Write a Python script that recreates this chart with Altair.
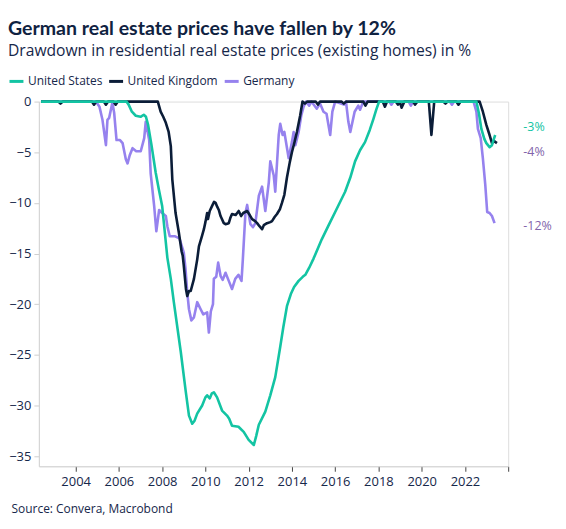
import altair as alt
import pandas as pd

# ---------------- data ----------------
us_year = [2002.4, 2006.35, 2006.45, 2006.6, 2006.78, 2007.0, 2007.15, 2007.25, 2007.35, 2007.5,
           2007.7, 2007.85, 2008.0, 2008.24, 2008.4, 2008.54, 2008.86, 2009.09, 2009.24, 2009.39,
           2009.5, 2009.62, 2009.85, 2010.0, 2010.08, 2010.2, 2010.3, 2010.39, 2010.54, 2010.77,
           2011.0, 2011.1, 2011.23, 2011.53, 2011.77, 2012.0, 2012.24, 2012.35, 2012.47, 2012.77,
           2013.0, 2013.23, 2013.46, 2013.6, 2013.77, 2013.95, 2014.1, 2014.31, 2014.5, 2014.62,
           2014.8, 2015.0, 2015.38, 2015.7, 2016.0, 2016.46, 2016.7, 2016.92, 2017.15, 2017.38,
           2017.6, 2017.77, 2017.9, 2018.03, 2022.53, 2022.65, 2022.76, 2022.9, 2022.99, 2023.14,
           2023.25, 2023.32, 2023.4]
us_val = [0, 0, -0.3, -1.0, -1.4, -1.5, -1.3, -1.5, -2.3, -4.2,
          -7.0, -8.7, -10.3, -15.4, -17.5, -19.8, -24.7, -28.6, -31.0, -31.8,
          -31.5, -30.8, -30.0, -29.2, -29.0, -29.3, -28.8, -28.7, -29.2, -30.5,
          -31.0, -31.3, -32.0, -32.1, -32.6, -33.4, -33.9, -33.0, -31.9, -30.6,
          -29.0, -27.2, -24.2, -22.3, -20.2, -19.0, -18.3, -17.7, -17.3, -17.1,
          -16.4, -15.5, -13.6, -12.2, -10.9, -8.9, -7.5, -5.9, -4.8, -4.0,
          -2.8, -1.7, -0.8, 0, 0, -1.2, -2.7, -3.7, -4.1, -4.5,
          -4.3, -3.8, -3.3]

uk_year = [2002.4, 2003.2, 2003.3, 2003.4, 2004.75, 2004.85, 2004.95, 2005.3, 2005.4, 2005.5,
           2005.75, 2005.85, 2005.95, 2007.8, 2007.93, 2008.05, 2008.17, 2008.3, 2008.4, 2008.47,
           2008.62, 2008.77, 2008.9, 2008.95, 2009.0, 2009.1, 2009.16, 2009.24, 2009.32, 2009.47,
           2009.62, 2009.7, 2009.85, 2009.93, 2010.0, 2010.08, 2010.12, 2010.2, 2010.31, 2010.4,
           2010.47, 2010.55, 2010.62, 2010.7, 2010.85, 2010.93, 2011.08, 2011.15, 2011.23, 2011.4,
           2011.54, 2011.65, 2011.75, 2011.93, 2012.05, 2012.16, 2012.3, 2012.39, 2012.5, 2012.62,
           2012.7, 2012.85, 2013.0, 2013.08, 2013.2, 2013.31, 2013.45, 2013.54, 2013.65, 2013.77,
           2013.9, 2014.0, 2014.12, 2014.23, 2014.38, 2014.49, 2014.6, 2014.7, 2015.1, 2015.2,
           2015.3, 2016.3, 2016.4, 2016.5, 2017.3, 2017.4, 2017.5, 2018.2, 2018.3, 2018.4,
           2018.8, 2018.9, 2019.0, 2019.07, 2019.2, 2019.6, 2019.69, 2019.8, 2020.33, 2020.45,
           2020.58, 2021.0, 2021.1, 2021.2, 2021.6, 2021.7, 2021.8, 2022.68, 2022.83, 2022.99,
           2023.14, 2023.25, 2023.35, 2023.48]
uk_val = [0, 0, -0.2, 0, 0, -0.3, 0, 0, -0.3, 0,
          0, -0.3, 0, 0, -1.0, -1.5, -2.1, -3.0, -4.4, -7.7,
          -11.0, -12.9, -14.8, -15.2, -16.2, -18.5, -19.2, -18.7, -18.7, -17.5,
          -15.6, -14.3, -13.2, -12.6, -11.9, -11.0, -11.6, -10.8, -10.3, -9.9,
          -10.0, -10.4, -10.7, -11.3, -12.0, -12.1, -12.0, -11.5, -11.1, -11.2,
          -10.8, -11.3, -11.0, -10.8, -11.2, -11.6, -11.8, -12.0, -12.3, -12.6,
          -12.2, -12.0, -11.9, -11.8, -11.4, -11.1, -10.6, -10.0, -9.2, -7.5,
          -6.0, -5.0, -4.0, -3.0, -1.4, 0, -0.2, 0, 0, -0.3,
          0, 0, -0.2, 0, 0, -0.4, 0, 0, -0.5, 0,
          0, -0.3, -0.1, -0.6, 0, 0, -0.3, 0, 0, -3.3,
          0, 0, -0.2, 0, 0, -0.3, 0, 0, -1.0, -2.3,
          -3.3, -4.1, -3.9, -4.1]

de_year = [2002.4, 2004.9, 2005.0, 2005.1, 2005.24, 2005.4, 2005.47, 2005.55, 2005.7, 2005.78,
           2005.89, 2006.05, 2006.17, 2006.32, 2006.4, 2006.5, 2006.63, 2006.8, 2007.01, 2007.17,
           2007.24, 2007.4, 2007.47, 2007.63, 2007.73, 2007.86, 2008.0, 2008.17, 2008.24, 2008.35,
           2008.6, 2008.8, 2009.0, 2009.08, 2009.16, 2009.24, 2009.35, 2009.47, 2009.62, 2009.78,
           2009.9, 2010.08, 2010.16, 2010.25, 2010.35, 2010.39, 2010.5, 2010.59, 2010.7, 2010.8,
           2010.93, 2011.08, 2011.23, 2011.38, 2011.53, 2011.67, 2011.73, 2011.85, 2011.93, 2012.08,
           2012.2, 2012.31, 2012.47, 2012.62, 2012.77, 2012.93, 2013.0, 2013.16, 2013.23, 2013.39,
           2013.46, 2013.57, 2013.65, 2013.85, 2014.0, 2014.08, 2014.16, 2014.31, 2014.43, 2014.54,
           2014.65, 2014.8, 2014.9, 2015.15, 2015.3, 2015.46, 2015.6, 2015.77, 2015.87, 2016.0,
           2016.4, 2016.5, 2016.61, 2016.7, 2016.9, 2017.07, 2017.15, 2017.3, 2018.5, 2018.6,
           2018.7, 2019.4, 2019.5, 2019.6, 2021.3, 2021.4, 2021.5, 2022.4, 2022.53, 2022.6,
           2022.73, 2022.83, 2022.94, 2023.03, 2023.14, 2023.25, 2023.37]
de_val = [0, 0, -0.2, -0.5, -1.8, -4.3, -1.8, -1.6, -0.1, -1.1,
          -3.8, -3.8, -4.1, -5.7, -6.1, -5.3, -4.6, -4.9, -4.9, -3.6,
          -2.0, -3.8, -7.1, -10.3, -12.8, -10.7, -11.0, -11.3, -12.3, -13.3,
          -13.3, -13.5, -14.9, -16.5, -18.8, -20.5, -21.6, -21.3, -19.8, -20.5,
          -21.0, -20.8, -22.8, -20.7, -20.0, -17.5, -17.3, -15.9, -17.2, -17.6,
          -16.9, -17.7, -18.5, -17.5, -17.1, -17.7, -15.6, -11.0, -10.2, -12.1,
          -12.4, -12.0, -9.3, -8.4, -10.8, -8.0, -5.9, -7.3, -8.9, -3.3,
          -2.2, -3.3, -3.0, -5.6, -4.0, -3.0, -4.3, -3.0, -1.4, -0.5,
          0, -0.4, 0, -0.7, -0.2, -1.0, -1.2, -3.3, -1.0, 0,
          -0.3, 0, -2.0, -3.0, -1.0, -0.4, -0.8, 0, 0, -0.3,
          0, 0, -0.4, 0, 0, -0.3, 0, 0, -1.0, -2.7,
          -3.6, -5.6, -8.2, -10.9, -11.0, -11.3, -12.0]

series_names = ["United States", "United Kingdom", "Germany"]
series_colors = ["#13c4a3", "#0b1d38", "#9682ee"]

end_labels = ["-3%", "-4%", "-12%"]
end_label_y = [-2.5, -5.0, -12.3]
end_label_colors = ["#13c4a3", "#8264ab", "#8264ab"]
end_label_x = 2024.7

x_ticks = [2004, 2006, 2008, 2010, 2012, 2014, 2016, 2018, 2020, 2022, 2024]
y_ticks = [0, -5, -10, -15, -20, -25, -30, -35]

FONT = "Open Sans"
TXT = "#16274a"

def frame(years, vals, name):
    return pd.DataFrame({"year": years, "value": vals, "series": name})

df_us = frame(us_year, us_val, series_names[0])
df_uk = frame(uk_year, uk_val, series_names[1])
df_de = frame(de_year, de_val, series_names[2])
df_lab = pd.DataFrame({"year": [end_label_x] * 3, "value": end_label_y,
                       "label": end_labels, "col": end_label_colors})

xscale = alt.Scale(domain=[2002.3, 2024.0], nice=False, zero=False)
yscale = alt.Scale(domain=[-36, 0], nice=False)
cscale = alt.Scale(domain=series_names, range=series_colors)

xaxis = alt.Axis(values=x_ticks, format="d",
                 labelExpr="datum.value == 2024 ? '' : datum.label",
                 grid=False, domainColor="#d4d4d4", tickColor="#444444", tickSize=5,
                 labelFontSize=13, labelColor=TXT, labelFont=FONT, labelPadding=4,
                 title="Source: Convera, Macrobond", titleAnchor="start", titleX=-28,
                 titleY=42, titleBaseline="middle", titleFontSize=12,
                 titleFontWeight="normal", titleColor=TXT, titleFont=FONT)
yaxis = alt.Axis(values=y_ticks, grid=False, domainColor="#d4d4d4", tickColor="#cfcfcf",
                 tickSize=5, labelFontSize=13, labelColor=TXT, labelFont=FONT,
                 labelPadding=3, title=None)

legend = alt.Legend(title=None, orient="none", legendX=-31, legendY=-29,
                    direction="horizontal", symbolType="stroke", symbolStrokeWidth=3,
                    symbolSize=196, labelFontSize=12, labelColor=TXT, labelFont=FONT,
                    labelOffset=3, columnPadding=0, padding=0, symbolOffset=0)

def line(df):
    return alt.Chart(df).mark_line(strokeWidth=2.6, strokeJoin="round", clip=False).encode(
        x=alt.X("year:Q", scale=xscale, axis=xaxis),
        y=alt.Y("value:Q", scale=yscale, axis=yaxis),
        color=alt.Color("series:N", scale=cscale, legend=legend),
    )

labels = alt.Chart(df_lab).mark_text(align="left", baseline="middle", fontSize=12.5,
                                     font=FONT).encode(
    x=alt.X("year:Q", scale=xscale),
    y=alt.Y("value:Q", scale=yscale),
    text="label:N",
    color=alt.Color("col:N", scale=None),
)

chart = alt.layer(line(df_de), line(df_uk), line(df_us), labels).properties(
    width=471, height=366,
    padding={"left": 31, "top": 93, "right": 50, "bottom": 50},
    autosize=alt.AutoSizeParams(type="none"),
    title=alt.TitleParams(
        text="German real estate prices have fallen by 12%",
        subtitle="Drawdown in residential real estate prices (existing homes) in %",
        anchor="start", frame="group", dx=-31, offset=13,
        fontSize=19.6, fontWeight="bold", color="#0f2241", font="Lato",
        subtitleFontSize=15.7, subtitleColor="#16274a", subtitleFont=FONT,
        subtitlePadding=5,
    ),
).configure_view(stroke=None).configure(background="white")

chart.save("out.html", embed_options={"renderer": "svg", "actions": False})
